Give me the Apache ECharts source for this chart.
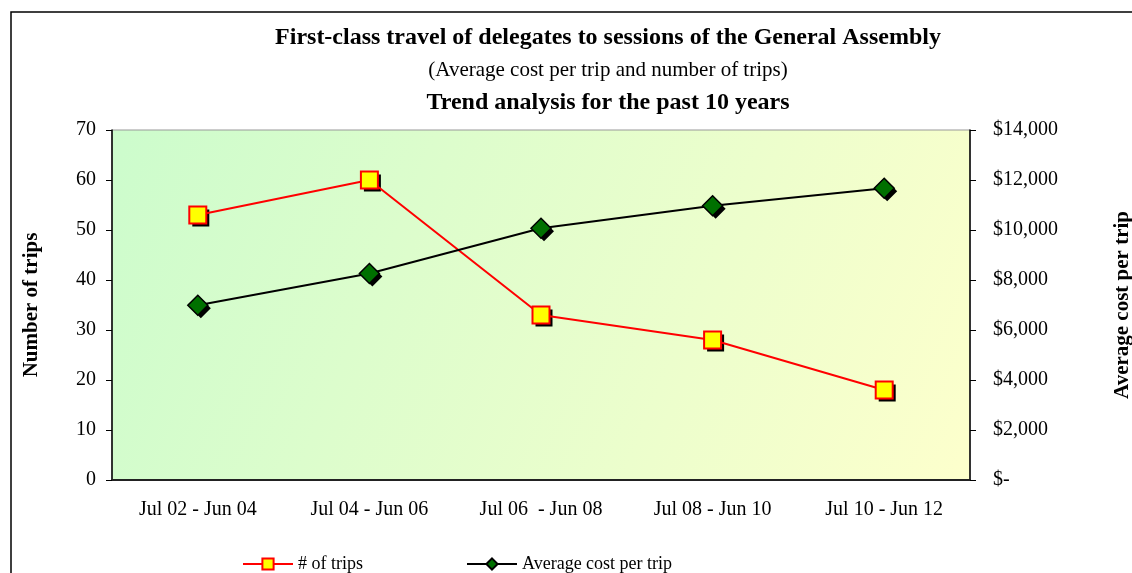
<!DOCTYPE html>
<html>
<head>
<meta charset="utf-8">
<script src="https://cdn.jsdelivr.net/npm/echarts@6/dist/echarts.min.js"></script>
<style>
  html, body { margin: 0; padding: 0; background: #fff; }
  #chart1 { width: 1132px; height: 573px; }
</style>
</head>
<body>
<div id="chart1"></div>
<script>
const periodos = ['Jul 02 - Jun 04', 'Jul 04 - Jun 06', 'Jul 06  - Jun 08', 'Jul 08 - Jun 10', 'Jul 10 - Jun 12'];
const numViajes = [53, 60, 33, 28, 18];
const costoMedio = [6990, 8260, 10070, 10970, 11670];

const fuente = '"Liberation Serif", "DejaVu Serif", serif';

// sombra negra desplazada de los marcadores (serie auxiliar con los mismos datos)
const sombra = (nombre, datos, eje, simbolo, tam) => ({
  name: nombre,
  type: 'line',
  yAxisIndex: eje,
  data: datos,
  symbol: simbolo, symbolSize: tam, symbolOffset: [3, 3],
  lineStyle: { opacity: 0 },
  itemStyle: { color: '#000', borderWidth: 0 },
  z: 1, silent: true
});

const initChart = () => {
  const chart1 = echarts.init(document.getElementById('chart1'));

  const option = {
    animation: false,
    textStyle: { fontFamily: fuente, color: '#000' },
    title: [
      { text: 'First-class travel of delegates to sessions of the General Assembly', left: 603, textAlign: 'center', top: 21,
        textStyle: { fontSize: 24, fontWeight: 'bold', fontFamily: fuente, color: '#000' } },
      { text: '(Average cost per trip and number of trips)', left: 603, textAlign: 'center', top: 55,
        textStyle: { fontSize: 21, fontWeight: 'normal', fontFamily: fuente, color: '#000' } },
      { text: 'Trend analysis for the past 10 years', left: 603, textAlign: 'center', top: 86,
        textStyle: { fontSize: 24, fontWeight: 'bold', fontFamily: fuente, color: '#000' } }
    ],
    graphic: [{
      type: 'rect', silent: true,
      shape: { x: 11, y: 12, width: 1200, height: 700 },
      style: { fill: 'none', stroke: '#000', lineWidth: 1.5 }
    }],
    legend: {
      left: 242, top: 555, padding: 0,
      itemWidth: 50, itemHeight: 14, itemGap: 103,
      textStyle: { fontSize: 18, fontFamily: fuente, color: '#000' },
      data: ['# of trips', 'Average cost per trip']
    },
    grid: {
      left: 112, right: 162, top: 130, bottom: 93,
      outerBoundsMode: 'none',
      show: true, borderColor: '#999', borderWidth: 1,
      backgroundColor: new echarts.graphic.LinearGradient(0, 0, 1, 1, [
        { offset: 0, color: '#ccfccc' },
        { offset: 1, color: '#fdffcc' }
      ])
    },
    xAxis: {
      type: 'category',
      data: periodos,
      boundaryGap: true,
      axisLine: { lineStyle: { color: '#222', width: 2 } },
      axisTick: { length: 6, lineStyle: { color: '#000' } },
      axisLabel: { fontSize: 20, color: '#000', margin: 20, fontFamily: fuente }
    },
    yAxis: [{
      type: 'value', min: 0, max: 70, interval: 10,
      name: 'Number of trips', nameLocation: 'middle', nameGap: 70, nameRotate: 90,
      nameTextStyle: { fontSize: 21, fontWeight: 'bold', fontFamily: fuente, color: '#000' },
      axisLine: { show: true, lineStyle: { color: '#000', width: 1.5 } },
      axisTick: { show: true, length: 6, lineStyle: { color: '#000' } },
      axisLabel: { fontSize: 20, color: '#000', margin: 16, fontFamily: fuente },
      splitLine: { show: false }
    }, {
      type: 'value', min: 0, max: 14000, interval: 2000, position: 'right',
      name: 'Average cost per trip', nameLocation: 'middle', nameGap: 142, nameRotate: 90,
      nameTextStyle: { fontSize: 21, fontWeight: 'bold', fontFamily: fuente, color: '#000' },
      axisLine: { show: true, lineStyle: { color: '#000', width: 1.5 } },
      axisTick: { show: true, length: 6, lineStyle: { color: '#000' } },
      axisLabel: {
        fontSize: 20, color: '#000', margin: 23, fontFamily: fuente,
        formatter: v => v === 0 ? '$-' : '$' + v.toLocaleString('en-US')
      },
      splitLine: { show: false }
    }],
    series: [
      sombra('sombra1', numViajes, 0, 'rect', 17),
      sombra('sombra2', costoMedio, 1, 'diamond', 20),
      {
        name: '# of trips',
        type: 'line',
        yAxisIndex: 0,
        data: numViajes,
        symbol: 'rect', symbolSize: 17,
        lineStyle: { color: '#ff0000', width: 2 },
        itemStyle: { color: '#ffff00', borderColor: '#ff0000', borderWidth: 2 },
        z: 3
      }, {
        name: 'Average cost per trip',
        type: 'line',
        yAxisIndex: 1,
        data: costoMedio,
        symbol: 'diamond', symbolSize: 20,
        lineStyle: { color: '#000', width: 2 },
        itemStyle: { color: '#007000', borderColor: '#000', borderWidth: 1.5 },
        z: 3
      }
    ]
  };

  chart1.setOption(option);
};

document.addEventListener('DOMContentLoaded', () => {
  initChart();
});
</script>
</body>
</html>
